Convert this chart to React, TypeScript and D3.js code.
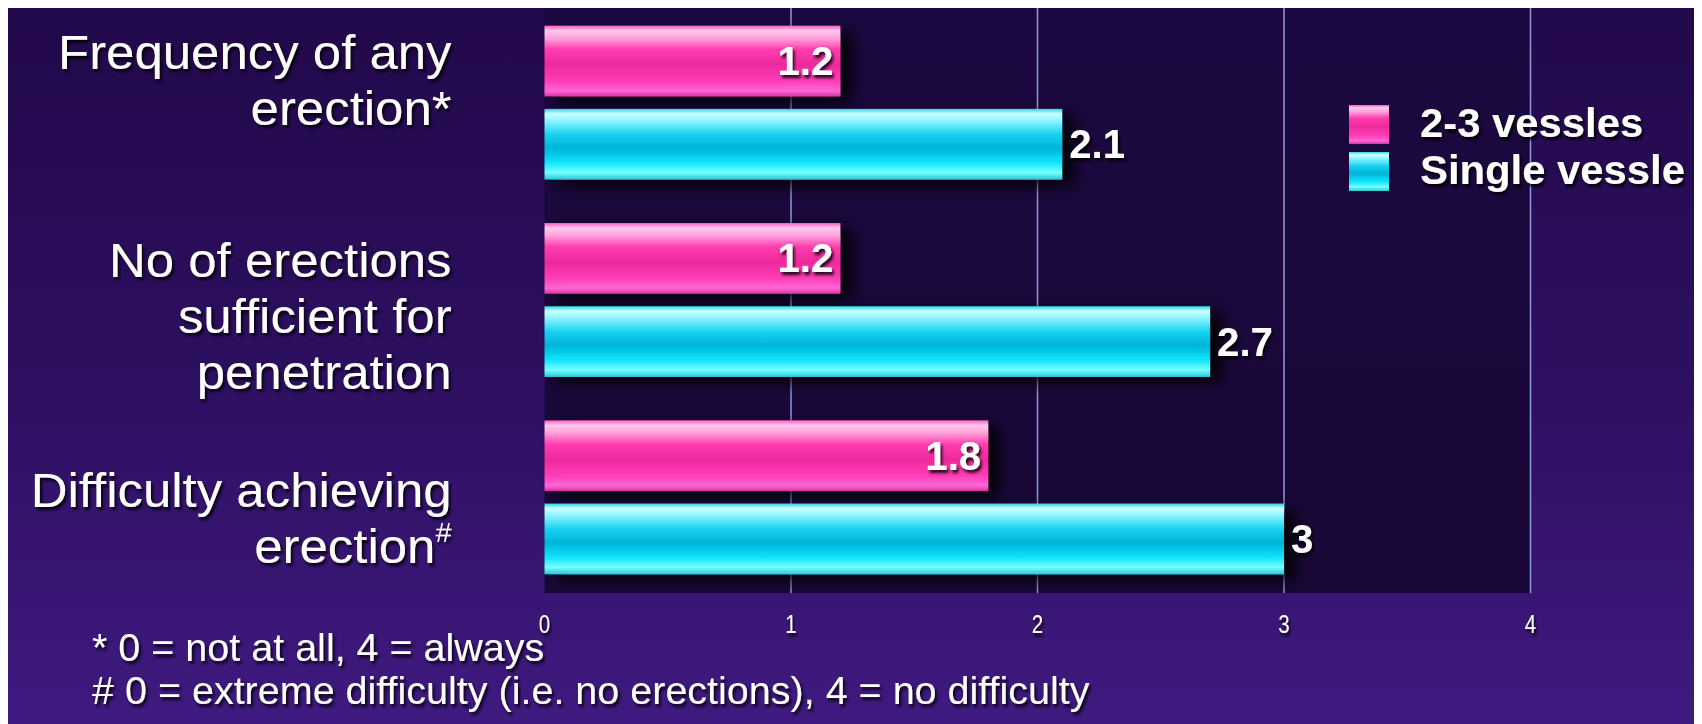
import React, { useEffect } from "react";
import * as d3 from "d3";

// ---- data ----
const categoryLines: string[][] = [
  ["Frequency of any", "erection*"],
  ["No of erections", "sufficient for", "penetration"],
  ["Difficulty achieving", "erection#"],
];
const categoryKeys = ["frequency", "penetration", "difficulty"];
const seriesNames = ["2-3 vessles", "Single vessle"];
const multiVessel = [1.2, 1.2, 1.8];
const singleVessel = [2.1, 2.7, 3];
const tickValues = [0, 1, 2, 3, 4];
const footnotes = [
  "* 0 = not at all, 4 = always",
  "# 0 = extreme difficulty (i.e. no erections), 4 = no difficulty",
];

// ---- layout ----
const W = 1694;
const H = 716;
const PLOT = { left: 536.5, right: 1522.5, top: 0, bottom: 585 };
const LABEL_RIGHT = 443.6;
const LINE_H = 56;
const LABEL_NUDGE = [-21, 18, 23];
const FONT = "'Liberation Sans', Arial, Helvetica, sans-serif";

const seriesValues = [multiVessel, singleVessel];
const gradIds = ["gPink", "gCyan"];

export default function App() {
  useEffect(() => {
    document.documentElement.style.overflow = "hidden";
    document.body.style.overflow = "hidden";
  }, []);

  const x = d3.scaleLinear().domain([0, 4]).range([PLOT.left, PLOT.right]);
  const y = d3
    .scaleBand<string>()
    .domain(categoryKeys)
    .range([-4, 588])
    .paddingInner(0.22)
    .paddingOuter(0.11);
  const ySub = d3
    .scaleBand<string>()
    .domain(seriesNames)
    .range([0, y.bandwidth()])
    .paddingInner(0.15);

  const stretched = (
    key: string,
    tx: number,
    ty: number,
    sx: number,
    size: number,
    anchor: "start" | "end" | "middle",
    content: React.ReactNode,
    bold = false
  ) => (
    <text
      key={key}
      transform={`translate(${tx},${ty}) scale(${sx},1)`}
      textAnchor={anchor}
      fontSize={size}
      fontWeight={bold ? "bold" : "normal"}
      fill="#ffffff"
      filter="url(#txtShadow)"
    >
      {content}
    </text>
  );

  return (
    <svg width={W} height={H} style={{ display: "block", fontFamily: FONT }}>
      <defs>
        <linearGradient id="bg" x1="0" y1="0" x2="0" y2="1">
          <stop offset="0" stopColor="#22094a" />
          <stop offset="0.5" stopColor="#2d0f60" />
          <stop offset="1" stopColor="#3f1a80" />
        </linearGradient>
        <linearGradient id="plotBg" x1="0" y1="0" x2="0" y2="1">
          <stop offset="0" stopColor="#1c0840" />
          <stop offset="1" stopColor="#1a0838" />
        </linearGradient>
        <linearGradient id="gPink" x1="0" y1="0" x2="0" y2="1">
          <stop offset="0" stopColor="#ff5cc4" />
          <stop offset="0.07" stopColor="#ffc8ee" />
          <stop offset="0.18" stopColor="#ffa0da" />
          <stop offset="0.34" stopColor="#ff3cae" />
          <stop offset="0.55" stopColor="#ec2a9c" />
          <stop offset="0.78" stopColor="#ff3cb6" />
          <stop offset="0.92" stopColor="#ff66d6" />
          <stop offset="1" stopColor="#d8349e" />
        </linearGradient>
        <linearGradient id="gCyan" x1="0" y1="0" x2="0" y2="1">
          <stop offset="0" stopColor="#30d4e8" />
          <stop offset="0.07" stopColor="#ccffff" />
          <stop offset="0.18" stopColor="#86f2ff" />
          <stop offset="0.36" stopColor="#18d2f0" />
          <stop offset="0.55" stopColor="#00b4d8" />
          <stop offset="0.75" stopColor="#0ce2fa" />
          <stop offset="0.9" stopColor="#74ffff" />
          <stop offset="1" stopColor="#2cc4d8" />
        </linearGradient>
        <filter id="barShadow" x="-5%" y="-30%" width="125%" height="170%">
          <feOffset in="SourceAlpha" dx="12" dy="6" result="off" />
          <feGaussianBlur in="off" stdDeviation="8" result="blur" />
          <feFlood floodColor="#000000" floodOpacity="0.9" />
          <feComposite in2="blur" operator="in" result="shadow" />
          <feMerge>
            <feMergeNode in="shadow" />
            <feMergeNode in="SourceGraphic" />
          </feMerge>
        </filter>
        <filter id="txtShadow" x="-10%" y="-30%" width="125%" height="170%">
          <feDropShadow dx="2" dy="3" stdDeviation="1.5" floodColor="#000000" floodOpacity="0.85" />
        </filter>
      </defs>

      {/* backgrounds */}
      <rect x={0} y={0} width={W} height={H} fill="url(#bg)" />
      <rect
        x={PLOT.left}
        y={PLOT.top}
        width={PLOT.right - PLOT.left}
        height={PLOT.bottom - PLOT.top}
        fill="url(#plotBg)"
      />

      {/* gridlines */}
      {tickValues
        .filter((t) => t > 0)
        .map((t) => (
          <line
            key={`g${t}`}
            x1={x(t)}
            x2={x(t)}
            y1={PLOT.top}
            y2={PLOT.bottom}
            stroke="#8c9ddc"
            strokeWidth={1.5}
          />
        ))}

      {/* bars */}
      {seriesNames.map((s, si) =>
        categoryKeys.map((c, ci) => {
          const v = seriesValues[si][ci];
          const by = (y(c) ?? 0) + (ySub(s) ?? 0);
          return (
            <rect
              key={`b${si}-${ci}`}
              x={x(0)}
              y={by}
              width={x(v) - x(0)}
              height={ySub.bandwidth()}
              fill={`url(#${gradIds[si]})`}
              filter="url(#barShadow)"
            />
          );
        })
      )}

      {/* value labels */}
      {seriesNames.map((s, si) =>
        categoryKeys.map((c, ci) => {
          const v = seriesValues[si][ci];
          const cy = (y(c) ?? 0) + (ySub(s) ?? 0) + ySub.bandwidth() / 2 + 14;
          const inside = si === 0;
          return stretched(
            `v${si}-${ci}`,
            inside ? x(v) - 7 : x(v) + 7,
            cy,
            0.98,
            41,
            inside ? "end" : "start",
            String(v),
            true
          );
        })
      )}

      {/* tick labels */}
      {tickValues.map((t) =>
        stretched(`t${t}`, x(t), 625, 0.82, 25, "middle", String(t))
      )}

      {/* category labels */}
      {categoryKeys.map((c, ci) => {
        const lines = categoryLines[ci];
        const mid = (y(c) ?? 0) + y.bandwidth() / 2 + LABEL_NUDGE[ci];
        return lines.map((ln, li) => {
          const by = mid + (li - (lines.length - 1) / 2) * LINE_H + 15;
          let content: React.ReactNode = ln;
          if (ln.endsWith("#")) {
            content = (
              <>
                {ln.slice(0, -1)}
                <tspan fontSize={28} dy={-21}>
                  #
                </tspan>
              </>
            );
          }
          return stretched(`c${ci}-${li}`, LABEL_RIGHT, by, 1.04, 49, "end", content);
        });
      })}

      {/* legend */}
      {seriesNames.map((s, si) => (
        <g key={`l${si}`}>
          <rect
            x={1341}
            y={97 + si * 47}
            width={40}
            height={39}
            fill={`url(#${gradIds[si]})`}
          />
          {stretched(`lt${si}`, 1412, 129 + si * 47, 1.02, 41, "start", s, true)}
        </g>
      ))}

      {/* footnotes */}
      {footnotes.map((f, fi) =>
        stretched(`f${fi}`, 84, 653 + fi * 43, 1.0, 39.5, "start", f)
      )}
    </svg>
  );
}
